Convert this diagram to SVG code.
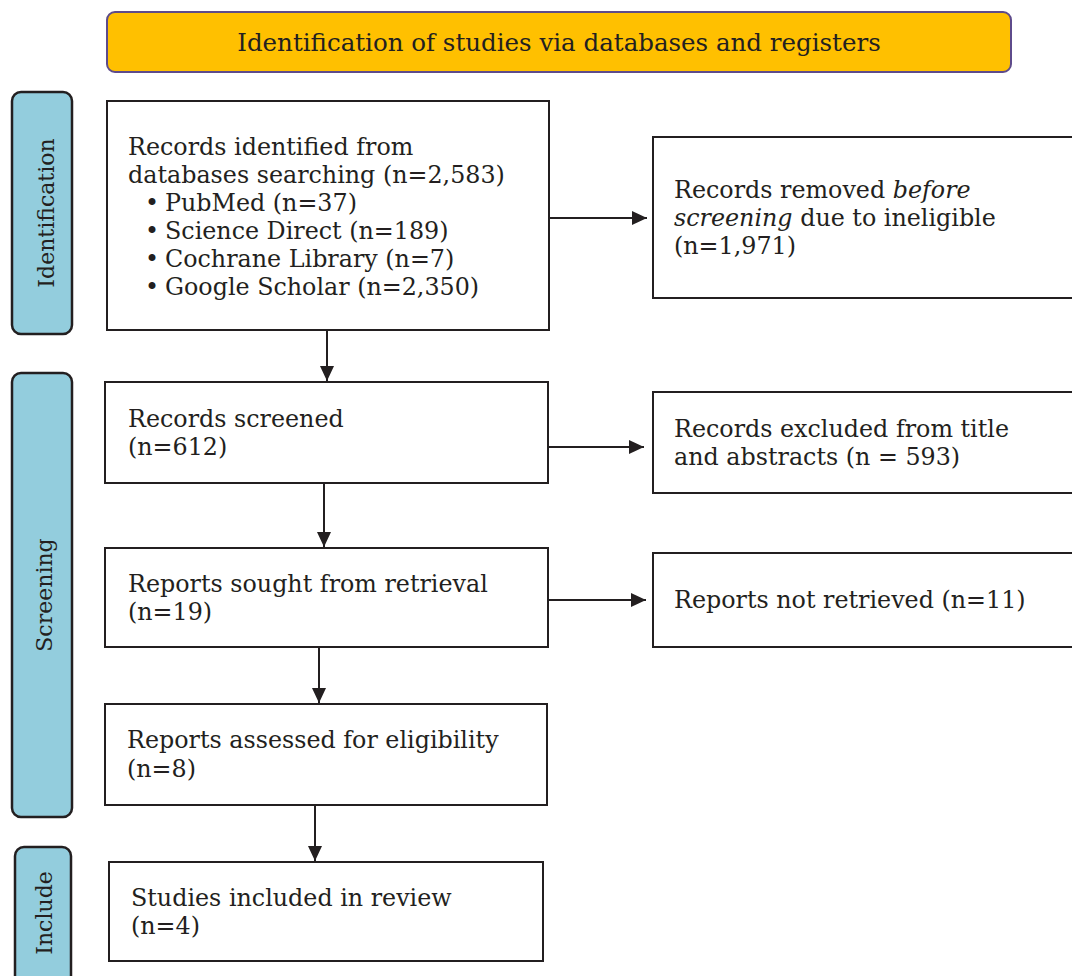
<svg xmlns="http://www.w3.org/2000/svg" width="1072" height="976" viewBox="0 0 1072 976">
<defs>
<style>
.t{font-family:"DejaVu Serif","Liberation Serif",serif;font-size:23.8px;fill:#231f20}
.s{font-size:22px}
.box{fill:#fff;stroke:#231f20;stroke-width:2}
.side{fill:#93cddd;stroke:#231f20;stroke-width:2.5}
.con{fill:none;stroke:#231f20;stroke-width:2;marker-end:url(#ah)}
</style>
<marker id="ah" viewBox="0 0 15 14" refX="15" refY="7" markerWidth="15" markerHeight="14" markerUnits="userSpaceOnUse" orient="auto">
<path d="M0,0 L15,7 L0,14 z" fill="#231f20"/>
</marker>
</defs>
<rect width="1072" height="976" fill="#fff"/>
<g id="title">
<rect x="107" y="12" width="904" height="60" rx="8" fill="#ffc000" stroke="#5e4b8b" stroke-width="2"/>
<text class="t" x="559" y="51" text-anchor="middle" style="font-size:24.5px">Identification of studies via databases and registers</text>
</g>
<g id="side-identification">
<rect class="side" x="12" y="92" width="60" height="242" rx="9"/>
<text class="t s" transform="translate(54,213) rotate(-90)" text-anchor="middle">Identification</text>
</g>
<g id="side-screening">
<rect class="side" x="12" y="373" width="60" height="444" rx="9"/>
<text class="t s" transform="translate(52,595) rotate(-90)" text-anchor="middle">Screening</text>
</g>
<g id="side-include">
<rect class="side" x="15" y="847" width="56" height="140" rx="9"/>
<text class="t s" transform="translate(52,913) rotate(-90)" text-anchor="middle">Include</text>
</g>
<g id="n-identified">
<rect class="box" x="107" y="101" width="442" height="229"/>
<text class="t" x="128" y="155">Records identified from</text>
<text class="t" x="128" y="183">databases searching (n=2,583)</text>
<text class="t" x="145" y="211">•</text><text class="t" x="165" y="211">PubMed (n=37)</text>
<text class="t" x="145" y="239">•</text><text class="t" x="165" y="239">Science Direct (n=189)</text>
<text class="t" x="145" y="267">•</text><text class="t" x="165" y="267">Cochrane Library (n=7)</text>
<text class="t" x="145" y="295">•</text><text class="t" x="165" y="295">Google Scholar (n=2,350)</text>
</g>
<g id="n-removed">
<rect class="box" x="653" y="137" width="430" height="161"/>
<text class="t" x="674" y="198">Records removed <tspan font-style="italic">before</tspan></text>
<text class="t" x="674" y="226"><tspan font-style="italic">screening</tspan> due to ineligible</text>
<text class="t" x="674" y="254">(n=1,971)</text>
</g>
<g id="n-screened">
<rect class="box" x="105" y="382" width="443" height="101"/>
<text class="t" x="128" y="427">Records screened</text>
<text class="t" x="128" y="455">(n=612)</text>
</g>
<g id="n-excluded">
<rect class="box" x="653" y="392" width="430" height="101"/>
<text class="t" x="674" y="437">Records excluded from title</text>
<text class="t" x="674" y="465">and abstracts (n = 593)</text>
</g>
<g id="n-sought">
<rect class="box" x="105" y="548" width="443" height="99"/>
<text class="t" x="128" y="592">Reports sought from retrieval</text>
<text class="t" x="128" y="620">(n=19)</text>
</g>
<g id="n-notretrieved">
<rect class="box" x="653" y="553" width="430" height="94"/>
<text class="t" x="674" y="608">Reports not retrieved (n=11)</text>
</g>
<g id="n-assessed">
<rect class="box" x="105" y="704" width="442" height="101"/>
<text class="t" x="127" y="748">Reports assessed for eligibility</text>
<text class="t" x="127" y="777">(n=8)</text>
</g>
<g id="n-included">
<rect class="box" x="109" y="862" width="434" height="99"/>
<text class="t" x="131" y="906">Studies included in review</text>
<text class="t" x="131" y="934">(n=4)</text>
</g>
<g id="connectors">
<path class="con" d="M327,330 V381"/>
<path class="con" d="M549,218 H647"/>
<path class="con" d="M548,447 H644"/>
<path class="con" d="M324,483 V547"/>
<path class="con" d="M548,600 H646"/>
<path class="con" d="M319,647 V703"/>
<path class="con" d="M315,805 V861"/>
</g>
</svg>
